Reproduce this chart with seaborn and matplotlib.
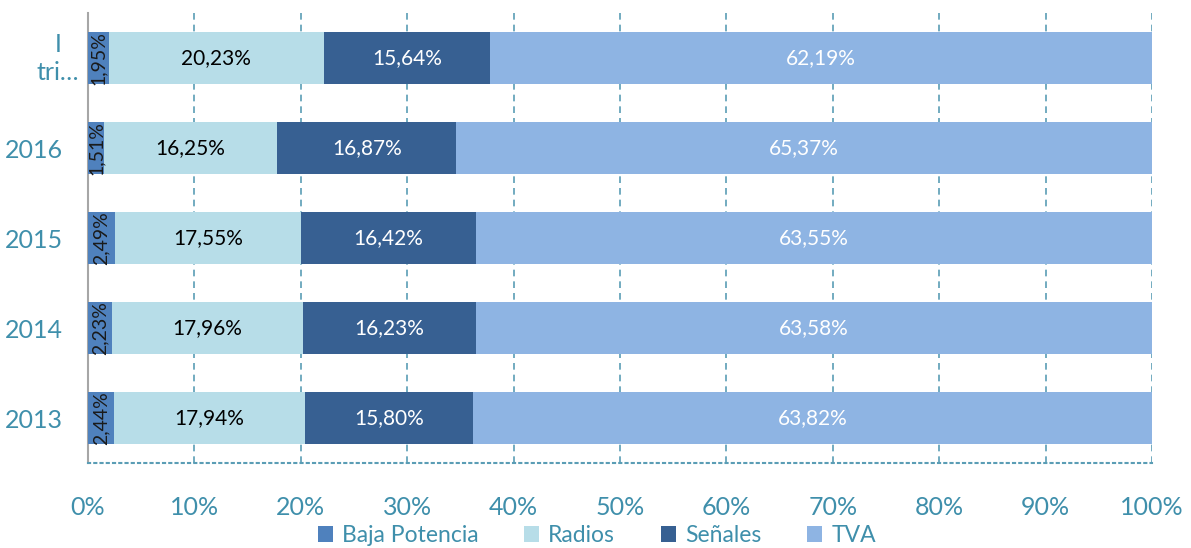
import matplotlib
matplotlib.use("Agg")
import matplotlib.pyplot as plt
import seaborn as sns
import pandas as pd
import numpy as np
from matplotlib.patches import Patch

categories = ["I\ntri…", "2016", "2015", "2014", "2013"]
baja = [1.95, 1.51, 2.49, 2.23, 2.44]
radios = [20.23, 16.25, 17.55, 17.96, 17.94]
senales = [15.64, 16.87, 16.42, 16.23, 15.80]
tva = [62.19, 65.37, 63.55, 63.58, 63.82]

series_names = ["Baja Potencia", "Radios", "Señales", "TVA"]
series_vals = [baja, radios, senales, tva]
colors = ["#4f81bd", "#b7dde8", "#376092", "#8eb4e3"]
label_colors = ["#1a1a1a", "#000000", "white", "white"]
tick_color = "#3f8fab"

sns.set_theme(style="white")
plt.rcParams["font.family"] = ["Lato", "DejaVu Sans"]

fig = plt.figure(figsize=(11.91, 5.48), dpi=100)
ax = fig.add_axes([0.0739, 0.155, 0.8934, 0.821])

cum = np.zeros(len(categories))
starts = []
for v in series_vals:
    left = cum.copy()
    cum = cum + np.array(v)
    starts.append((left, cum.copy()))

# draw from largest cumulative to smallest so segments layer correctly
for i in reversed(range(len(series_vals))):
    left, right = starts[i]
    d = pd.DataFrame({"cat": categories, "val": right})
    sns.barplot(data=d, x="val", y="cat", orient="h", color=colors[i],
                width=0.57, ax=ax, saturation=1, linewidth=0, zorder=2 + (len(series_vals) - i))

for i, v in enumerate(series_vals):
    left, right = starts[i]
    for j, val in enumerate(v):
        cx = (left[j] + right[j]) / 2
        txt = f"{val:.2f}%".replace(".", ",")
        if i == 0:
            ax.text(cx, j, txt, rotation=90, ha="center", va="center",
                    fontsize=14, color=label_colors[i], zorder=10)
        else:
            ax.text(cx, j, txt, ha="center", va="center",
                    fontsize=15, color=label_colors[i], zorder=10)

ax.set_xlim(0, 100)
ax.set_ylim(4.5, -0.5)
ax.set_xticks(np.arange(0, 101, 10))
ax.set_xticklabels([f"{t}%" for t in range(0, 101, 10)])
ax.set_xlabel("")
ax.set_ylabel("")
ax.xaxis.grid(True, linestyle=(0, (4, 3)), color="#5a9db5", linewidth=1.2, zorder=0)
ax.set_axisbelow(True)
for s in ["top", "right"]:
    ax.spines[s].set_visible(False)
ax.spines["left"].set_color("#a6a6a6")
ax.spines["left"].set_linewidth(1.5)
ax.spines["bottom"].set_color("#5a9db5")
ax.spines["bottom"].set_linestyle((0, (1, 2)))
ax.spines["bottom"].set_linewidth(1.5)
ax.tick_params(axis="both", colors=tick_color, labelsize=18, length=0)
ax.tick_params(axis="x", pad=24)
ax.tick_params(axis="y", pad=18)
ytl = [("" if "\n" in c else c) for c in categories]
ax.set_yticks(range(len(categories)))
ax.set_yticklabels(ytl)
for lbl in ax.get_yticklabels():
    lbl.set_ha("right")
    lbl.set_color(tick_color)
for lbl in ax.get_xticklabels():
    lbl.set_color(tick_color)
# wrapped (multi-line) category label, centered like the original
for j, c in enumerate(categories):
    if "\n" in c:
        ax.annotate(c, xy=(0, j), xycoords=("axes fraction", "data"),
                    xytext=(-21.5, 0), textcoords="offset points",
                    ha="center", va="center", multialignment="center",
                    fontsize=18, color=tick_color, linespacing=1.25)

handles = [Patch(facecolor=c, edgecolor="none") for c in colors]
leg = fig.legend(handles, series_names, loc="lower center", bbox_to_anchor=(0.501, -0.034),
                 ncol=4, frameon=False, fontsize=16.5, handlelength=0.65, handleheight=0.65,
                 columnspacing=2.0, handletextpad=0.4)
for t in leg.get_texts():
    t.set_color(tick_color)

fig.savefig("out.png", dpi=100)
